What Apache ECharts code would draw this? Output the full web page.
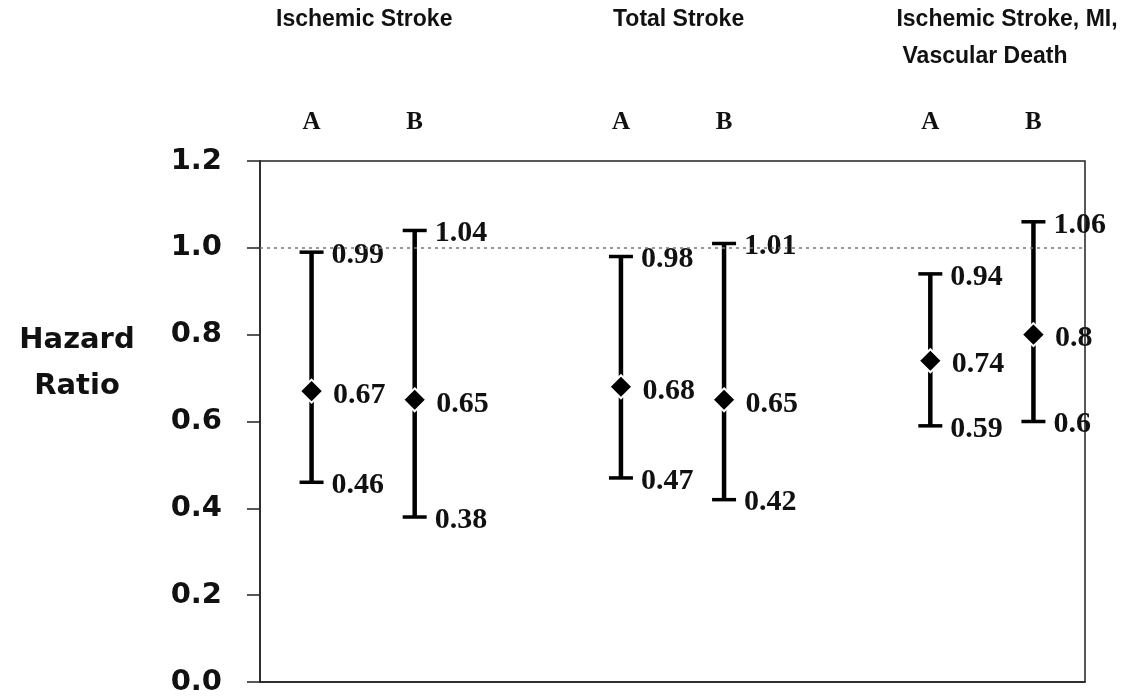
<!DOCTYPE html>
<html>
<head>
<meta charset="utf-8">
<script src="https://cdn.jsdelivr.net/npm/echarts@6/dist/echarts.min.js"></script>
<style>
  html, body { margin: 0; padding: 0; background: #fff; }
  #chart { width: 1125px; height: 698px; }
</style>
</head>
<body>
<div id="chart"></div>
<script>
// Category slots along the x axis (blank slots separate the three outcome groups)
const categories = ['A', 'B', '', 'A', 'B', '', 'A', 'B'];
const groupTitles = ['Ischemic Stroke', 'Total Stroke', 'Ischemic Stroke, MI,', 'Vascular Death'];
// Slot index of each estimate (A/B within each group)
const slotIndex = [0, 1, 3, 4, 6, 7];
// Hazard ratios and 95% confidence limits
const hazardRatio = [0.67, 0.65, 0.68, 0.65, 0.74, 0.8];
const lowerCI = [0.46, 0.38, 0.47, 0.42, 0.59, 0.6];
const upperCI = [0.99, 1.04, 0.98, 1.01, 0.94, 1.06];
// Y axis ticks
const yTicks = [0, 0.2, 0.4, 0.6, 0.8, 1.0, 1.2];
const referenceLine = 1.0;

const serifLabel = 'bold 30px "Liberation Serif", "Times New Roman", serif';
const titleFont = 'bold 23px "Liberation Sans", Arial, sans-serif';

const ciData = slotIndex.map((s, i) => [s, lowerCI[i], upperCI[i]]);
const pointData = slotIndex.map((s, i) => [s, hazardRatio[i]]);

const chart = echarts.init(document.getElementById('chart'), null, { renderer: 'canvas' });

const option = {
  animation: false,
  backgroundColor: '#ffffff',
  grid: {
    left: 260, right: 40, top: 161, bottom: 16,
    show: true, borderColor: '#222', borderWidth: 1.5, backgroundColor: 'transparent'
  },
  xAxis: {
    type: 'category',
    position: 'top',
    data: categories,
    boundaryGap: true,
    axisLine: { show: true, lineStyle: { color: '#222', width: 1.5 } },
    axisTick: { show: false },
    splitLine: { show: false },
    axisLabel: {
      interval: 0,
      margin: 26,
      color: '#111',
      fontFamily: '"Liberation Serif", "Times New Roman", serif',
      fontWeight: 'bold',
      fontSize: 25
    }
  },
  yAxis: {
    type: 'value',
    min: yTicks[0],
    max: yTicks[yTicks.length - 1],
    interval: 0.2,
    axisLine: { show: true, lineStyle: { color: '#222', width: 1.5 } },
    axisTick: { show: true, inside: false, length: 13, lineStyle: { color: '#222', width: 1.5 } },
    splitLine: { show: false },
    axisLabel: {
      margin: 38,
      color: '#111',
      fontFamily: '"DejaVu Sans", Arial, sans-serif',
      fontWeight: 'bold',
      fontSize: 29,
      formatter: v => v.toFixed(1)
    }
  },
  graphic: [
    {
      type: 'text', x: 77, y: 340,
      style: {
        text: 'Hazard', font: 'bold 29px "DejaVu Sans", Arial, sans-serif',
        fill: '#111', align: 'center', verticalAlign: 'middle'
      }
    },
    {
      type: 'text', x: 77, y: 386,
      style: {
        text: 'Ratio', font: 'bold 29px "DejaVu Sans", Arial, sans-serif',
        fill: '#111', align: 'center', verticalAlign: 'middle'
      }
    },
    {
      type: 'text', x: 276, y: 20,
      style: { text: groupTitles[0], font: titleFont, fill: '#111', align: 'left', verticalAlign: 'middle' }
    },
    {
      type: 'text', x: 613, y: 20,
      style: { text: groupTitles[1], font: titleFont, fill: '#111', align: 'left', verticalAlign: 'middle' }
    },
    {
      type: 'text', x: 1007, y: 20,
      style: { text: groupTitles[2], font: titleFont, fill: '#111', align: 'center', verticalAlign: 'middle' }
    },
    {
      type: 'text', x: 985, y: 57,
      style: { text: groupTitles[3], font: titleFont, fill: '#111', align: 'center', verticalAlign: 'middle' }
    }
  ],
  series: [
    {
      type: 'custom',
      data: ciData,
      z: 3,
      renderItem: function (params, api) {
        const x = api.value(0);
        const lo = api.value(1);
        const hi = api.value(2);
        const pHi = api.coord([x, hi]);
        const pLo = api.coord([x, lo]);
        const cap = 12;
        const stroke = { stroke: '#000', lineWidth: 3.5 };
        return {
          type: 'group',
          children: [
            { type: 'line', shape: { x1: pHi[0], y1: pHi[1], x2: pLo[0], y2: pLo[1] }, style: { stroke: '#000', lineWidth: 4.5 } },
            { type: 'line', shape: { x1: pHi[0] - cap, y1: pHi[1], x2: pHi[0] + cap, y2: pHi[1] }, style: stroke },
            { type: 'line', shape: { x1: pLo[0] - cap, y1: pLo[1], x2: pLo[0] + cap, y2: pLo[1] }, style: stroke },
            { type: 'text', x: pHi[0] + 20, y: pHi[1] + 3,
              style: { text: String(hi), font: serifLabel, fill: '#111', verticalAlign: 'middle', align: 'left' } },
            { type: 'text', x: pLo[0] + 20, y: pLo[1] + 3,
              style: { text: String(lo), font: serifLabel, fill: '#111', verticalAlign: 'middle', align: 'left' } }
          ]
        };
      }
    },
    {
      type: 'scatter',
      data: pointData,
      z: 4,
      symbol: 'diamond',
      symbolSize: [23, 23],
      itemStyle: { color: '#000', borderColor: '#fff', borderWidth: 2, opacity: 1 },
      label: {
        show: true,
        position: 'right',
        distance: 9,
        offset: [0, 4],
        formatter: p => String(p.value[1]),
        color: '#111',
        fontFamily: '"Liberation Serif", "Times New Roman", serif',
        fontWeight: 'bold',
        fontSize: 30
      },
      markLine: {
        silent: true,
        symbol: ['none', 'none'],
        label: { show: false },
        lineStyle: { color: '#777', type: [3, 4], width: 1.5 },
        data: [{ yAxis: referenceLine }]
      }
    }
  ]
};

chart.setOption(option);
</script>
</body>
</html>
